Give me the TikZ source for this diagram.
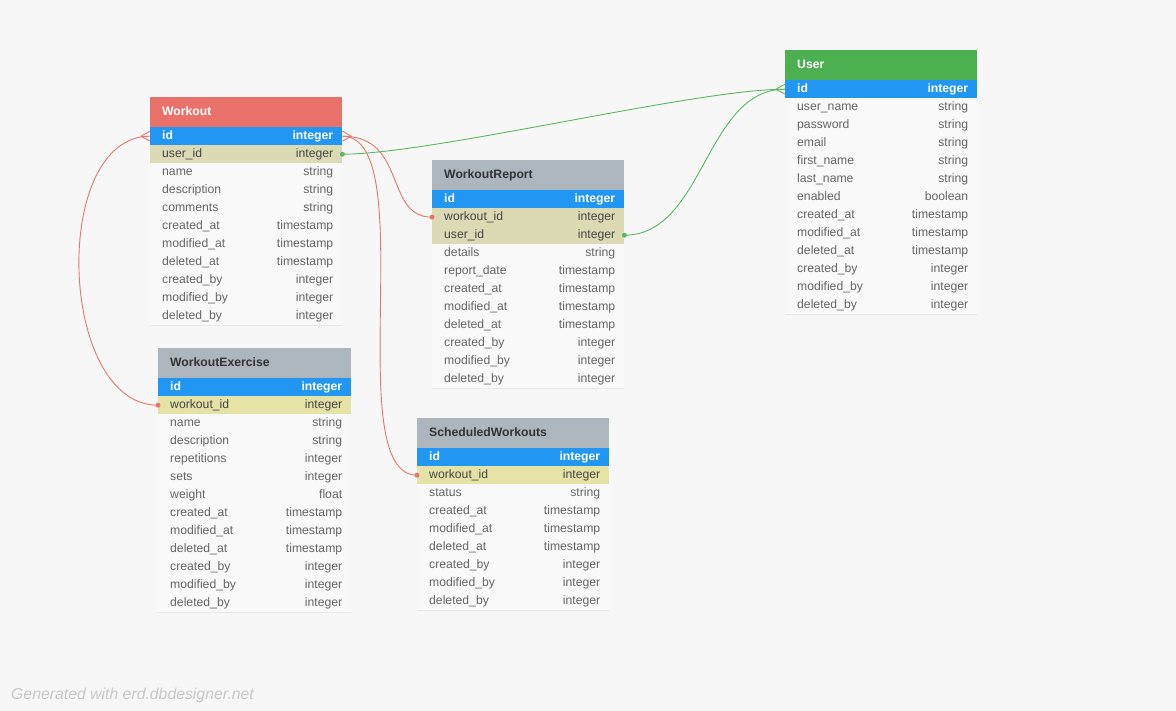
\documentclass[tikz,border=0pt]{standalone}
\usepackage{fontspec}
\setmainfont{Liberation Sans}
\definecolor{bg}{HTML}{F7F7F7}
\definecolor{rowbg}{HTML}{F9F9F9}
\definecolor{sep}{HTML}{E9E9E9}
\definecolor{hred}{HTML}{E8716A}
\definecolor{hgreen}{HTML}{4CAF50}
\definecolor{hgray}{HTML}{ADB5BD}
\definecolor{pkblue}{HTML}{2196F3}
\definecolor{fkolive}{HTML}{DCDAB5}
\definecolor{fkyellow}{HTML}{E5E2A6}
\definecolor{txt}{HTML}{666666}
\definecolor{fktxt}{HTML}{444444}
\definecolor{ttl}{HTML}{333333}
\definecolor{cred}{HTML}{E8746C}
\definecolor{cgreen}{HTML}{5CB860}
\definecolor{wm}{HTML}{C8C8C8}
\tikzset{
  hdrbox/.style={draw=none,rectangle,minimum height=30pt,inner sep=0pt},
  hred/.style={fill=hred}, hgreen/.style={fill=hgreen}, hgray/.style={fill=hgray},
  hred-title/.style={text=white}, hgreen-title/.style={text=white}, hgray-title/.style={text=ttl},
  title/.style={font=\fontsize{12.2}{14}\selectfont\bfseries,inner sep=0pt},
  rowbox/.style={rectangle,minimum height=18pt,inner sep=0pt,draw=none},
  pk/.style={fill=pkblue}, fk/.style={fill=fkolive}, fy/.style={fill=fkyellow}, n/.style={fill=rowbg},
  pk-text/.style={text=white,font=\fontsize{12.2}{14}\selectfont\bfseries},
  fk-text/.style={text=fktxt,font=\fontsize{12.2}{14}\selectfont},
  fy-text/.style={text=fktxt,font=\fontsize{12.2}{14}\selectfont},
  n-text/.style={text=txt,font=\fontsize{12.2}{14}\selectfont},
  ftext/.style={inner sep=0pt},
  redlink/.style={draw=cred,line width=0.9pt},
  greenlink/.style={draw=cgreen,line width=0.9pt},
}
\newcommand\ertable[7]{%
  \node[hdrbox,#5,minimum width=#4pt,anchor=north west] (#1-h) at (#2,#3) {};
  \node[title,#5-title,anchor=base west] (#1-title) at ([xshift=12,yshift=-3.6]#1-h.west) {#6};
  \foreach \f/\t/\k [count=\i] in {#7} {
    \node[rowbox,\k,minimum width=#4pt,anchor=north west] (#1-r\i) at ({#2},{#3+30+18*(\i-1)}) {};
    \draw[sep,line width=0.8pt] (#1-r\i.south west) -- (#1-r\i.south east);
    \node[ftext,\k-text,anchor=base west] (#1-f\i) at ([xshift=12,yshift=-3.6]#1-r\i.west) {\f};
    \node[ftext,\k-text,anchor=base east] (#1-t\i) at ([xshift=-9,yshift=-3.6]#1-r\i.east) {\t};
  }
}
\begin{document}
\begin{tikzpicture}[x=1pt,y=-1pt]
\fill[bg] (0,0) rectangle (1176,711);
\useasboundingbox (0,0) rectangle (1176,711);

\ertable{Workout}{150}{97}{192}{hred}{Workout}{id/integer/pk,user\_id/integer/fk,name/string/n,description/string/n,comments/string/n,created\_at/timestamp/n,modified\_at/timestamp/n,deleted\_at/timestamp/n,created\_by/integer/n,modified\_by/integer/n,deleted\_by/integer/n}

\ertable{User}{785}{50}{192}{hgreen}{User}{id/integer/pk,user\_name/string/n,password/string/n,email/string/n,first\_name/string/n,last\_name/string/n,enabled/boolean/n,created\_at/timestamp/n,modified\_at/timestamp/n,deleted\_at/timestamp/n,created\_by/integer/n,modified\_by/integer/n,deleted\_by/integer/n}

\ertable{WorkoutReport}{432}{160}{192}{hgray}{WorkoutReport}{id/integer/pk,workout\_id/integer/fk,user\_id/integer/fk,details/string/n,report\_date/timestamp/n,created\_at/timestamp/n,modified\_at/timestamp/n,deleted\_at/timestamp/n,created\_by/integer/n,modified\_by/integer/n,deleted\_by/integer/n}

\ertable{WorkoutExercise}{158}{348}{193}{hgray}{WorkoutExercise}{id/integer/pk,workout\_id/integer/fy,name/string/n,description/string/n,repetitions/integer/n,sets/integer/n,weight/float/n,created\_at/timestamp/n,modified\_at/timestamp/n,deleted\_at/timestamp/n,created\_by/integer/n,modified\_by/integer/n,deleted\_by/integer/n}

\ertable{ScheduledWorkouts}{417}{418}{192}{hgray}{ScheduledWorkouts}{id/integer/pk,workout\_id/integer/fy,status/string/n,created\_at/timestamp/n,modified\_at/timestamp/n,deleted\_at/timestamp/n,created\_by/integer/n,modified\_by/integer/n,deleted\_by/integer/n}

% red connectors
\draw[redlink] (Workout-r1.east) .. controls +(65,0) and +(-48,0) .. (WorkoutReport-r2.west);
\draw[redlink] (Workout-r1.east) .. controls +(80,0) and +(-78,0) .. (ScheduledWorkouts-r2.west);
\draw[redlink] (Workout-r1.west) .. controls +(-100,0) and +(-100,0) .. (WorkoutExercise-r2.west);
% green connectors
\draw[greenlink] (Workout-r2.east) .. controls +(90,0) and +(-90,0) .. (User-r1.west);
\draw[greenlink] (WorkoutReport-r3.east) .. controls +(80,0) and +(-80,0) .. (User-r1.west);

% crow's feet
\draw[redlink] ([xshift=9]Workout-r1.east) -- ([yshift=-5]Workout-r1.east)
               ([xshift=9]Workout-r1.east) -- ([yshift=5]Workout-r1.east);
\draw[redlink] ([xshift=-9]Workout-r1.west) -- ([yshift=-5]Workout-r1.west)
               ([xshift=-9]Workout-r1.west) -- ([yshift=5]Workout-r1.west);
\draw[greenlink] ([xshift=-9]User-r1.west) -- ([yshift=-5]User-r1.west)
                 ([xshift=-9]User-r1.west) -- ([yshift=5]User-r1.west);

% dots
\fill[cred] (WorkoutReport-r2.west) circle[radius=2.5pt];
\fill[cred] (WorkoutExercise-r2.west) circle[radius=2.5pt];
\fill[cred] (ScheduledWorkouts-r2.west) circle[radius=2.5pt];
\fill[cgreen] (Workout-r2.east) circle[radius=2.5pt];
\fill[cgreen] (WorkoutReport-r3.east) circle[radius=2.5pt];

\node[anchor=west,text=wm,font=\fontsize{15.8}{18}\selectfont\itshape,inner sep=0pt] (wmark) at (11,695) {Generated with erd.dbdesigner.net};
\end{tikzpicture}
\end{document}
